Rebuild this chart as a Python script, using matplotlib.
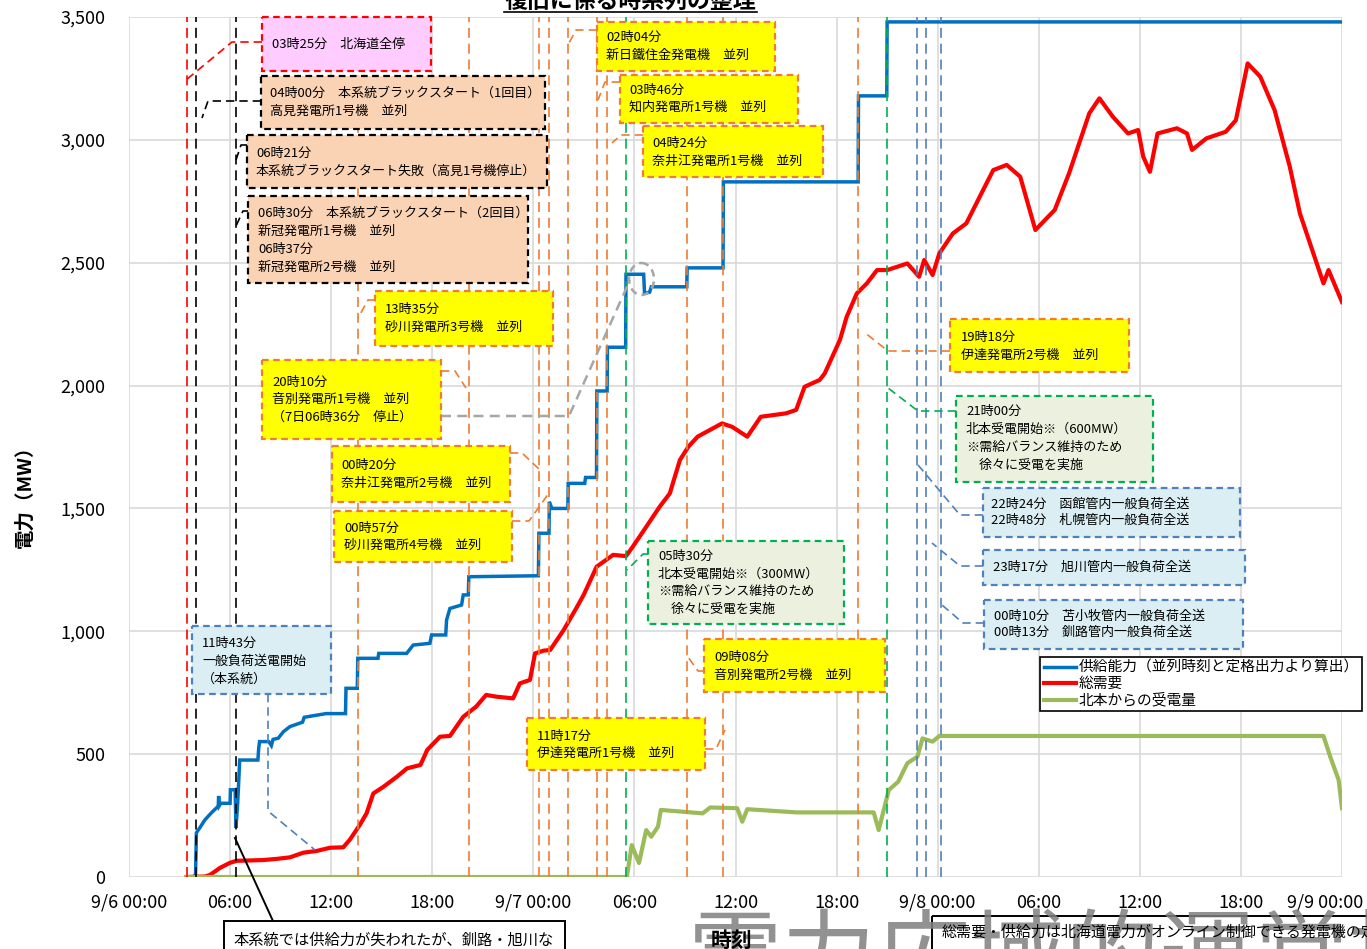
import matplotlib
matplotlib.use("Agg")
import matplotlib.pyplot as plt
import matplotlib.transforms as mtransforms
from matplotlib.patches import Rectangle, Ellipse
from matplotlib.lines import Line2D

plt.rcParams['font.family'] = ['Noto Sans CJK JP', 'DejaVu Sans']

# --- data (hours counted from 9/6 00:00) ---
tick_hours = [0, 6, 12, 18, 24, 30, 36, 42, 48, 54, 60, 66, 72]
tick_labels = ["9/6 00:00", "06:00", "12:00", "18:00", "9/7 00:00", "06:00", "12:00",
               "18:00", "9/8 00:00", "06:00", "12:00", "18:00", "9/9 00:00"]
y_ticks = [0, 500, 1000, 1500, 2000, 2500, 3000, 3500]

# 供給能力 (step series)
supply_t = [3.82, 3.95, 4.0, 4.2, 4.5, 4.9, 5.25, 5.3, 5.32, 5.36, 5.45, 6.0, 6.02, 6.3, 6.35,
            6.45, 6.5, 6.57, 7.65, 7.7, 7.75, 8.3, 8.45, 8.55, 8.86, 9.16, 9.55, 10.3, 10.4,
            11.7, 12.85, 12.88, 13.55, 13.58, 14.78, 14.82, 16.48, 16.87, 17.86, 17.96, 18.8,
            18.85, 19.05, 19.74, 19.84, 20.14, 20.17, 24.3, 24.33, 24.93, 24.95, 25.1, 26.05,
            26.07, 27.05, 27.1, 27.75, 27.77, 28.38, 28.4, 29.48, 29.5, 30.55, 30.6, 30.9,
            31.0, 33.11, 33.13, 35.26, 35.28, 43.28, 43.3, 44.98, 45.0, 72.0]
supply_mw = [0, 10, 180, 200, 232, 262, 285, 290, 330, 290, 300, 300, 355, 355, 200,
             300, 370, 476, 476, 525, 551, 551, 535, 560, 565, 591, 612, 630, 650,
             665, 665, 768, 768, 890, 890, 910, 910, 944, 951, 985, 985,
             1046, 1093, 1107, 1148, 1148, 1222, 1226, 1399, 1399, 1527, 1500, 1500,
             1602, 1602, 1626, 1626, 1978, 1978, 2156, 2156, 2453, 2453, 2375, 2380,
             2402, 2402, 2479, 2479, 2829, 2829, 3179, 3179, 3480, 3480]

# 総需要
demand_t = [3.42, 4.5, 4.8, 5.4, 6.0, 6.4, 7.0, 7.97, 8.8, 9.55, 10.35, 11.14, 11.93, 12.72,
            13.1, 13.7, 14.1, 14.5, 15.1, 15.9, 16.5, 17.3, 17.7, 18.46, 19.05, 19.84, 20.6,
            21.2, 21.8, 22.8, 23.2, 23.8, 24.1, 24.6, 25.0, 25.8, 26.6, 27.0, 27.76, 28.74,
            29.5, 29.9, 30.7, 31.5, 32.1, 32.7, 33.2, 33.75, 35.2, 35.8, 36.7, 37.5, 39.0,
            39.6, 40.1, 41.0, 41.3, 42.2, 42.6, 43.2, 43.8, 44.4, 45.0, 46.2, 46.9, 47.2,
            47.7, 48.1, 48.9, 49.7, 50.5, 51.3, 52.1, 52.9, 53.8, 54.95, 55.8, 57.0, 57.6,
            58.4, 59.3, 59.9, 60.2, 60.6, 61.05, 62.2, 62.8, 63.1, 63.95, 65.1, 65.7, 66.4,
            67.15, 68.0, 68.9, 69.5, 70.3, 70.9, 71.2, 72.0]
demand_mw = [0, 2, 8, 37, 58, 66, 67, 69, 74, 80, 99, 106, 119, 121,
             151, 212, 259, 340, 367, 408, 442, 456, 517, 571, 574, 652, 693,
             741, 734, 727, 788, 802, 910, 921, 924, 1005, 1100, 1150, 1263, 1311,
             1306, 1344, 1425, 1507, 1561, 1697, 1751, 1792, 1846, 1832, 1792, 1873, 1887,
             1901, 1995, 2023, 2050, 2186, 2280, 2375, 2416, 2470, 2470, 2497, 2443, 2511,
             2450, 2538, 2619, 2660, 2769, 2877, 2898, 2850, 2633, 2715, 2864, 3108, 3169,
             3094, 3026, 3040, 2932, 2870, 3026, 3047, 3026, 2959, 3006, 3033, 3080, 3311,
             3257, 3121, 2891, 2701, 2538, 2416, 2470, 2340]

# 北本からの受電量
import_t = [3.42, 29.55, 29.84, 30.27, 30.7, 31.0, 31.4, 31.57, 34.05, 34.5, 36.1, 36.4, 36.7,
            39.6, 44.2, 44.5, 44.8, 45.1, 45.66, 46.2, 46.8, 47.1, 47.7, 48.1, 70.9, 71.3,
            71.8, 72.0]
import_mw = [0, 0, 130, 57, 191, 164, 205, 273, 259, 283, 280, 225, 276,
             263, 263, 191, 273, 354, 388, 463, 490, 564, 551, 574, 574, 490,
             395, 280]

# event times ("day HH:MM")
events_red = ["6 03:25"]
events_black = ["6 04:00", "6 06:21"]
events_orange = ["6 13:35", "6 20:10", "7 00:20", "7 00:57", "7 02:04", "7 03:46",
                 "7 04:24", "7 09:08", "7 11:17", "7 19:18"]
events_green = ["7 05:30", "7 21:00"]
events_blue = ["7 22:48", "7 23:17", "8 00:13"]


def to_hours(s):
    day, hm = s.split()
    h, m = hm.split(":")
    return (int(day) - 6) * 24 + int(h) + int(m) / 60


ORANGE = "#ED7D31"
GREEN = "#00B050"
BLUE_D = "#4F81BD"
YELLOW = "#FFFF00"
PEACH = "#FAD2B4"
PINK = "#FFCCFF"
LBLUE = "#DAEEF3"
LGREEN = "#EBF1DE"

W, H = 1367, 949
fig = plt.figure(figsize=(W / 100, H / 100), dpi=100)
px = mtransforms.Affine2D().scale(1 / W, -1 / H).translate(0, 1) + fig.transFigure
ax = fig.add_axes([129 / W, 1 - 877 / H, (1342 - 129) / W, (877 - 17) / H])

ax.set_xlim(0, 72)
ax.set_ylim(0, 3500)
ax.set_xticks(tick_hours)
ax.set_xticklabels(tick_labels)
ax.set_yticks(y_ticks)
ax.set_yticklabels([f"{v:,}" for v in y_ticks])
ax.tick_params(axis="x", length=0, pad=12, labelsize=13)
ax.tick_params(axis="y", length=0, pad=17, labelsize=13)
# last date label is pulled inside the figure, like the source chart
last = ax.get_xticklabels()[-1]
last.set_transform(last.get_transform() + mtransforms.ScaledTranslation(-0.17, 0, fig.dpi_scale_trans))
ax.grid(True, color="#D9D9D9", lw=1.2, zorder=0)
ax.set_axisbelow(True)
for sp in ax.spines.values():
    sp.set_visible(False)

ax.plot(supply_t, supply_mw, color="#0070C0", lw=2.5, zorder=2,
        label="供給能力（並列時刻と定格出力より算出）", solid_joinstyle="miter")
ax.plot(demand_t, demand_mw, color="#FF0000", lw=3.0, zorder=2.1, label="総需要")
ax.plot(import_t, import_mw, color="#9BBB59", lw=3.0, zorder=2.2, label="北本からの受電量")

dash = (0, (6, 3.5))
for evs, c in [(events_red, "#FF0000"), (events_black, "black"), (events_orange, ORANGE),
               (events_green, GREEN), (events_blue, BLUE_D)]:
    for e in evs:
        ax.axvline(to_hours(e), color=c, lw=1.2, ls=dash, zorder=3)

# annotation boxes: (x0, y0, x1, y1) pixels, face, edge, text x, first line y, step, lines
boxes = [
    ((262, 17, 431, 71), PINK, "#FF0000", 272, 44, 18, ["03時25分　北海道全停"]),
    ((261, 76, 545, 129), PEACH, "black", 270, 93, 18.5,
     ["04時00分　本系統ブラックスタート（1回目）", "高見発電所1号機　並列"]),
    ((247, 135, 547, 188), PEACH, "black", 256, 153, 18,
     ["06時21分", "本系統ブラックスタート失敗（高見1号機停止）"]),
    ((248, 196, 528, 283), PEACH, "black", 258, 213, 18,
     ["06時30分　本系統ブラックスタート（2回目）", "新冠発電所1号機　並列", "06時37分",
      "新冠発電所2号機　並列"]),
    ((375, 291, 553, 346), YELLOW, ORANGE, 385, 309, 18.5, ["13時35分", "砂川発電所3号機　並列"]),
    ((262, 360, 441, 439), YELLOW, ORANGE, 272, 382, 17.7,
     ["20時10分", "音別発電所1号機　並列", "（7日06時36分　停止）"]),
    ((332, 446, 510, 502), YELLOW, ORANGE, 341, 465, 18.3, ["00時20分", "奈井江発電所2号機　並列"]),
    ((334, 511, 512, 562), YELLOW, ORANGE, 344, 528, 17.5, ["00時57分", "砂川発電所4号機　並列"]),
    ((192, 626, 331, 694), LBLUE, BLUE_D, 202, 643, 18, ["11時43分", "一般負荷送電開始", "（本系統）"]),
    ((648, 541, 844, 624), LGREEN, GREEN, 658, 556, 17.8,
     ["05時30分", "北本受電開始※（300MW）", "※需給バランス維持のため", "　徐々に受電を実施"]),
    ((704, 639, 885, 692), YELLOW, ORANGE, 714, 657, 18.6, ["09時08分", "音別発電所2号機　並列"]),
    ((527, 718, 705, 770), YELLOW, ORANGE, 537, 736, 17.5, ["11時17分", "伊達発電所1号機　並列"]),
    ((950, 319, 1129, 372), YELLOW, ORANGE, 961, 337, 18.7, ["19時18分", "伊達発電所2号機　並列"]),
    ((956, 396, 1153, 482), LGREEN, GREEN, 966, 411, 18,
     ["21時00分", "北本受電開始※（600MW）", "※需給バランス維持のため", "　徐々に受電を実施"]),
    ((983, 488, 1240, 537), LBLUE, BLUE_D, 991, 504, 16.8,
     ["22時24分　函館管内一般負荷全送", "22時48分　札幌管内一般負荷全送"]),
    ((983, 550, 1245, 585), LBLUE, BLUE_D, 993, 567, 17, ["23時17分　旭川管内一般負荷全送"]),
    ((984, 600, 1243, 649), LBLUE, BLUE_D, 994, 616, 16.7,
     ["00時10分　苫小牧管内一般負荷全送", "00時13分　釧路管内一般負荷全送"]),
    ((597, 22, 775, 71), YELLOW, ORANGE, 606, 37, 18, ["02時04分", "新日鐵住金発電機　並列"]),
    ((620, 75, 798, 123), YELLOW, ORANGE, 629, 90, 17.5, ["03時46分", "知内発電所1号機　並列"]),
    ((643, 126, 823, 177), YELLOW, ORANGE, 652, 143, 18.3, ["04時24分", "奈井江発電所1号機　並列"]),
]

box_dash = (0, (3, 2))
for (x0, y0, x1, y1), face, edge, tx, ty, step, lines in boxes:
    ax.add_patch(Rectangle((x0, y0), x1 - x0, y1 - y0, transform=px, facecolor=face,
                           edgecolor=edge, lw=1.6, ls=box_dash, clip_on=False, zorder=5))
    for i, s in enumerate(lines):
        ax.text(tx, ty + i * step, s, transform=px, fontsize=9.4, va="center", ha="left",
                zorder=6, clip_on=False)

# leader lines (pixels)
leaders = [
    ("#FF0000", [(262, 42), (232, 42), (186, 80)]),
    ("black", [(261, 101), (208, 101), (202, 118)]),
    ("black", [(247, 145), (241, 145), (236, 160)]),
    ("black", [(249, 211), (243, 211), (236, 226)]),
    (ORANGE, [(375, 300), (368, 300), (358, 318)]),
    (ORANGE, [(441, 371), (455, 371), (466, 388)]),
    (ORANGE, [(510, 453), (522, 453), (540, 470)]),
    (ORANGE, [(512, 521), (529, 521), (549, 493)]),
    (BLUE_D, [(268, 694), (268, 811), (315, 850)]),
    (GREEN, [(648, 554), (643, 554), (627, 570)]),
    (ORANGE, [(704, 671), (698, 671), (688, 657)]),
    (ORANGE, [(705, 749), (716, 749), (725, 730)]),
    (ORANGE, [(950, 351), (888, 351), (864, 332)]),
    (GREEN, [(956, 411), (918, 411), (888, 388)]),
    (BLUE_D, [(983, 515), (960, 515), (918, 465)]),
    (BLUE_D, [(983, 566), (960, 566), (932, 543)]),
    (BLUE_D, [(984, 623), (963, 623), (942, 605)]),
    (ORANGE, [(597, 30), (576, 30), (569, 43)]),
    (ORANGE, [(620, 82), (605, 82), (598, 100)]),
    (ORANGE, [(643, 135), (621, 135), (612, 143)]),
]
for c, pts in leaders:
    xs, ys = zip(*pts)
    ax.add_line(Line2D(xs, ys, transform=px, color=c, lw=1.2, ls=(0, (5, 3)),
                       clip_on=False, zorder=4))

# gray leader from 20時10分 box to the circled dip
ax.add_line(Line2D([441, 569, 630], [416, 416, 280], transform=px, color="#A6A6A6", lw=1.8,
                   ls=(0, (4, 2.5)), clip_on=False, zorder=4))
ax.add_patch(Ellipse((641.5, 279), 25, 32, transform=px, facecolor="none", edgecolor="#A6A6A6",
                     lw=1.8, ls=(0, (3, 2)), clip_on=False, zorder=4))

# callout for the 06:21 failure
ax.add_line(Line2D([235, 273], [838, 921], transform=px, color="black", lw=1.4,
                   clip_on=False, zorder=4))

leg = ax.legend(loc="upper left", bbox_to_anchor=(1040, 657), bbox_transform=px,
                fontsize=10.6, frameon=True, fancybox=False, edgecolor="black",
                framealpha=1, borderpad=0.25, handlelength=2.2, handletextpad=0.15,
                labelspacing=0.15, borderaxespad=0)
leg.get_frame().set_linewidth(1.2)
leg.set_zorder(7)

# y label, title, bottom items
fig.text(25, 492, "電力（MW）", transform=px, rotation=90, fontsize=14, weight="bold",
         ha="center", va="center")
fig.text(630, 8, "復旧に係る時系列の整理", transform=px, fontsize=16.5, weight="bold",
         ha="center", va="baseline")
fig.add_artist(Line2D([504, 757], [12, 12], transform=px, color="black", lw=1.2))

fig.add_artist(Rectangle((224, 921), 341, 60, transform=px, facecolor="white",
                         edgecolor="black", lw=1.4))
fig.text(234, 940, "本系統では供給力が失われたが、釧路・旭川な", transform=px, fontsize=11,
         va="center", ha="left")

fig.add_artist(Rectangle((932, 916), 500, 60, transform=px, facecolor="none",
                         edgecolor="black", lw=1.4))
fig.text(688, 912, "電力広域的運営推進機関", transform=px, fontsize=68, color="#7F7F7F",
         alpha=0.85, va="top", ha="left", zorder=2)
fig.text(942, 932, "総需要・供給力は北海道電力がオンライン制御できる発電機の定", transform=px,
         fontsize=10.8, va="center", ha="left", zorder=3)
fig.text(732, 940, "時刻", transform=px, fontsize=15, weight="bold", va="center",
         ha="center", zorder=3)

fig.savefig("out.png", dpi=100)
